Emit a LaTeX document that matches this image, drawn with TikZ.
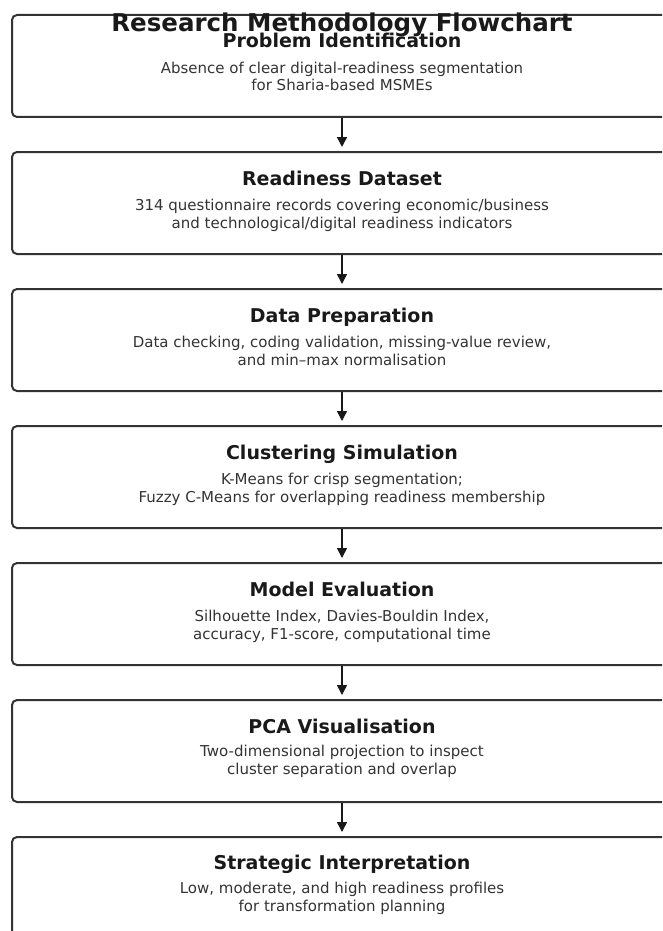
\documentclass[tikz,border=0pt]{standalone}
\usepackage{fontspec}
\setmainfont{DejaVu Sans}
\usetikzlibrary{arrows.meta}

\definecolor{boxline}{HTML}{333333}
\definecolor{bodytext}{HTML}{333333}

\tikzset{
	stage/.style={shape=rectangle, draw=boxline, line width=2pt, rounded corners=5pt, minimum width=660pt, minimum height=102pt, inner sep=0pt, anchor=north},
	stagehead/.style={anchor=base, inner sep=0pt, font=\fontsize{19}{22}\selectfont\bfseries, text=black!90},
	stagebody/.style={anchor=base, inner sep=0pt, align=center, font=\fontsize{15}{17.5}\selectfont, text=bodytext},
	flow/.style={-{Triangle[width=10pt, length=10pt]}, line width=1.5pt, draw=black!90, shorten >=4pt}
}

\begin{document}
\begin{tikzpicture}[x=1pt, y=-1pt]
			\clip (0, 0) rectangle (662, 931);
			\node[stage](B1) at (342, 14){};
			\node[stage](B2) at (342, 151){};
			\node[stage](B3) at (342, 288){};
			\node[stage](B4) at (342, 425){};
			\node[stage](B5) at (342, 562){};
			\node[stage](B6) at (342, 699){};
			\node[stage](B7) at (342, 836){};
			\draw[flow] (B1.south) -- (B2.north);
			\draw[flow] (B2.south) -- (B3.north);
			\draw[flow] (B3.south) -- (B4.north);
			\draw[flow] (B4.south) -- (B5.north);
			\draw[flow] (B5.south) -- (B6.north);
			\draw[flow] (B6.south) -- (B7.north);
			\node[anchor=base, inner sep=0pt, font=\fontsize{24.5}{28}\selectfont\bfseries, text=black!90](Title) at (342, 32){Research Methodology Flowchart};
			\node[stagehead](H1) at (342, 48){Problem Identification};
			\node[stagebody](T1) at (342, 91){Absence of clear digital-readiness segmentation\\for Sharia-based MSMEs};
			\node[stagehead](H2) at (342, 185){Readiness Dataset};
			\node[stagebody](T2) at (342, 228){314 questionnaire records covering economic/business\\and technological/digital readiness indicators};
			\node[stagehead](H3) at (342, 322){Data Preparation};
			\node[stagebody](T3) at (342, 365){Data checking, coding validation, missing-value review,\\and min--max normalisation};
			\node[stagehead](H4) at (342, 459){Clustering Simulation};
			\node[stagebody](T4) at (342, 502){K-Means for crisp segmentation;\\Fuzzy C-Means for overlapping readiness membership};
			\node[stagehead](H5) at (342, 596){Model Evaluation};
			\node[stagebody](T5) at (342, 639){Silhouette Index, Davies-Bouldin Index,\\accuracy, F1-score, computational time};
			\node[stagehead](H6) at (342, 733){PCA Visualisation};
			\node[stagebody](T6) at (342, 774){Two-dimensional projection to inspect\\cluster separation and overlap};
			\node[stagehead](H7) at (342, 869){Strategic Interpretation};
			\node[stagebody](T7) at (342, 911){Low, moderate, and high readiness profiles\\for transformation planning};
		\end{tikzpicture}
\end{document}
